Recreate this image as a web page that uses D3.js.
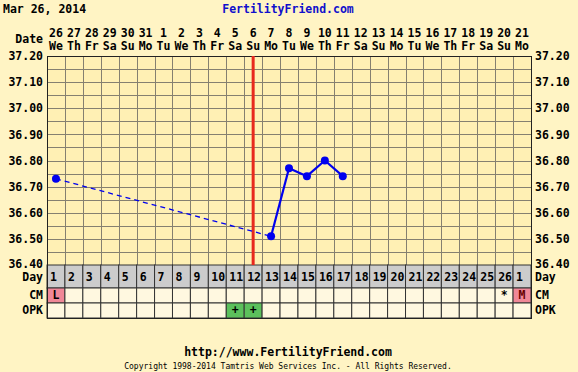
<!DOCTYPE html>
<html>
<head>
<meta charset="utf-8">
<script src="https://cdn.jsdelivr.net/npm/d3@7"></script>
<style>
  body { margin: 0; background: #fff4c4; }
  text { font-family: "DejaVu Sans Mono", monospace; font-weight: bold; }
</style>
</head>
<body>
<div id="chart"></div>
<script>
// calendar dates + weekdays across the top
let dates = ["26","27","28","29","30","31","1","2","3","4","5","6","7","8","9","10","11","12","13","14","15","16","17","18","19","20","21"]
let weekdays = ["We","Th","Fr","Sa","Su","Mo","Tu","We","Th","Fr","Sa","Su","Mo","Tu","We","Th","Fr","Sa","Su","Mo","Tu","We","Th","Fr","Sa","Su","Mo"]
let cycleDays = ["1","2","3","4","5","6","7","8","9","10","11","12","13","14","15","16","17","18","19","20","21","22","23","24","25","26","1"]
// temperatures, null = not recorded
let temps = [36.73,null,null,null,null,null,null,null,null,null,null,null,36.51,36.77,36.74,36.80,36.74,null,null,null,null,null,null,null,null,null,null]
let cm = ["L","","","","","","","","","","","","","","","","","","","","","","","","","*","M"]
let opk = ["","","","","","","","","","","+","+","","","","","","","","","","","","","","",""]
let yTicks = [37.20,37.10,37.00,36.90,36.80,36.70,36.60,36.50,36.40]
let ovulationDay = 11 // index of the red line (cycle day 12)

let width = 578, height = 372
let margin = { left: 47, right: 47, top: 56 }
let plotBottom = 265

let svg = d3.select('#chart').append('svg')
    .attr('width', width)
    .attr('height', height)

svg.append('rect').attr('width', width).attr('height', height).attr('fill', '#fff4c4')

let x = d3.scaleBand()
    .domain(d3.range(dates.length))
    .range([margin.left, width - margin.right])

let y = d3.scaleLinear()
    .domain([36.4, 37.2])
    .range([plotBottom, margin.top])

// plot background
svg.append('rect')
    .attr('x', x.range()[0]).attr('y', y(37.2))
    .attr('width', x.range()[1] - x.range()[0])
    .attr('height', y(36.4) - y(37.2))
    .attr('fill', '#fff0b4')

// grid
let grid = svg.append('g').attr('stroke', '#858070').attr('stroke-width', 1)
d3.range(1, dates.length).forEach(i => {
  grid.append('line')
    .attr('x1', Math.round(x(i)) + 0.5).attr('x2', Math.round(x(i)) + 0.5)
    .attr('y1', y(37.2)).attr('y2', y(36.4))
})
d3.range(1, 16).forEach(i => {
  let v = 36.4 + i * 0.05
  grid.append('line')
    .attr('x1', x.range()[0]).attr('x2', x.range()[1])
    .attr('y1', Math.round(y(v)) + 0.5).attr('y2', Math.round(y(v)) + 0.5)
})

// rows under the chart
let rows = [
  { key: 'Day', top: plotBottom, h: 23, base: 16, fill: '#cccccc', values: cycleDays },
  { key: 'CM', top: plotBottom + 23, h: 15, base: 11, fill: '#fff8e0', values: cm },
  { key: 'OPK', top: plotBottom + 38, h: 15, base: 11, fill: '#fff8e0', values: opk }
]

rows.forEach(r => {
  let g = svg.append('g')
  g.selectAll('rect').data(r.values).join('rect')
    .attr('x', (d, i) => x(i))
    .attr('y', r.top)
    .attr('width', x.bandwidth())
    .attr('height', r.h)
    .attr('fill', d => {
      if (r.key == 'CM' && (d == 'L' || d == 'M')) return '#f08898'
      if (r.key == 'OPK' && d == '+') return '#5cc05c'
      return r.fill
    })
    .attr('stroke', '#333')
    .attr('stroke-width', 1)
  g.selectAll('text').data(r.values).join('text')
    .attr('x', (d, i) => x(i) + (r.key == 'Day' ? 3 : x.bandwidth() / 2))
    .attr('y', r.top + r.base)
    .attr('text-anchor', r.key == 'Day' ? 'start' : 'middle')
    .attr('font-size', '11.5px')
    .attr('fill', d => d == 'M' ? '#600' : '#000')
    .text(d => d)
  svg.append('text').attr('x', 43).attr('y', r.top + r.base)
    .attr('text-anchor', 'end').attr('font-size', '11.5px').text(r.key)
  svg.append('text').attr('x', 535).attr('y', r.top + r.base)
    .attr('text-anchor', 'start').attr('font-size', '11.5px').text(r.key)
})

// plot border
svg.append('rect')
    .attr('x', x.range()[0] + 0.5).attr('y', y(37.2) + 0.5)
    .attr('width', x.range()[1] - x.range()[0])
    .attr('height', plotBottom + 53 - y(37.2))
    .attr('fill', 'none').attr('stroke', '#222')

// y axes
let yAxisL = d3.axisLeft(y).tickValues(yTicks).tickFormat(d3.format('.2f')).tickSize(0).tickPadding(4)
let yAxisR = d3.axisRight(y).tickValues(yTicks).tickFormat(d3.format('.2f')).tickSize(0).tickPadding(4)
let gl = svg.append('g').attr('transform', `translate(${x.range()[0]},0)`).call(yAxisL)
let gr = svg.append('g').attr('transform', `translate(${x.range()[1]},0)`).call(yAxisR)
;[gl, gr].forEach(g => {
  g.select('.domain').remove()
  g.selectAll('text').attr('font-size', '11.5px').attr('font-family', '"DejaVu Sans Mono", monospace').attr('fill', '#000')
  g.selectAll('.tick').filter(d => d == 36.4).select('text').attr('dy', '0.2em')
})

// top date header
svg.append('g').selectAll('text').data(dates).join('text')
    .attr('x', (d, i) => x(i) + x.bandwidth() / 2)
    .attr('y', 37)
    .attr('text-anchor', 'middle')
    .attr('font-size', '11.5px')
    .text(d => d)
svg.append('g').selectAll('text').data(weekdays).join('text')
    .attr('x', (d, i) => x(i) + x.bandwidth() / 2)
    .attr('y', 50)
    .attr('text-anchor', 'middle')
    .attr('font-size', '11.5px')
    .text(d => d)
svg.append('text').attr('x', 43).attr('y', 43).attr('text-anchor', 'end').attr('font-size', '11.5px').text('Date')

// ovulation line
svg.append('line')
    .attr('x1', x(ovulationDay) + x.bandwidth() / 2).attr('x2', x(ovulationDay) + x.bandwidth() / 2)
    .attr('y1', y(37.2)).attr('y2', y(36.4))
    .attr('stroke', '#e8281e').attr('stroke-width', 3)

// temperature line
let pts = temps.map((t, i) => ({ i, t })).filter(d => d.t != null)
let cx = d => x(d.i) + x.bandwidth() / 2
for (let k = 1; k < pts.length; k++) {
  let a = pts[k - 1], b = pts[k]
  let gap = b.i - a.i > 1
  svg.append('line')
    .attr('x1', cx(a)).attr('y1', y(a.t))
    .attr('x2', cx(b)).attr('y2', y(b.t))
    .attr('stroke', '#0000ee')
    .attr('stroke-width', gap ? 1.3 : 2.2)
    .attr('stroke-dasharray', gap ? '5,4' : null)
}
svg.selectAll('circle.pt').data(pts).join('circle')
    .attr('class', 'pt')
    .attr('cx', cx).attr('cy', d => y(d.t))
    .attr('r', 4).attr('fill', '#0000ee')

// titles
svg.append('text').attr('x', 3).attr('y', 13).attr('font-size', '11.5px').text('Mar 26, 2014')
svg.append('text').attr('x', 288).attr('y', 13).attr('text-anchor', 'middle').attr('font-size', '11.5px').attr('fill', '#1010cc').text('FertilityFriend.com')
svg.append('text').attr('x', 288).attr('y', 356).attr('text-anchor', 'middle').attr('font-size', '11.5px').text('http://www.FertilityFriend.com')
svg.append('text').attr('x', 288).attr('y', 369).attr('text-anchor', 'middle').attr('font-size', '8px').style('font-weight', 'normal').text('Copyright 1998-2014 Tamtris Web Services Inc. - All Rights Reserved.')
</script>
</body>
</html>
